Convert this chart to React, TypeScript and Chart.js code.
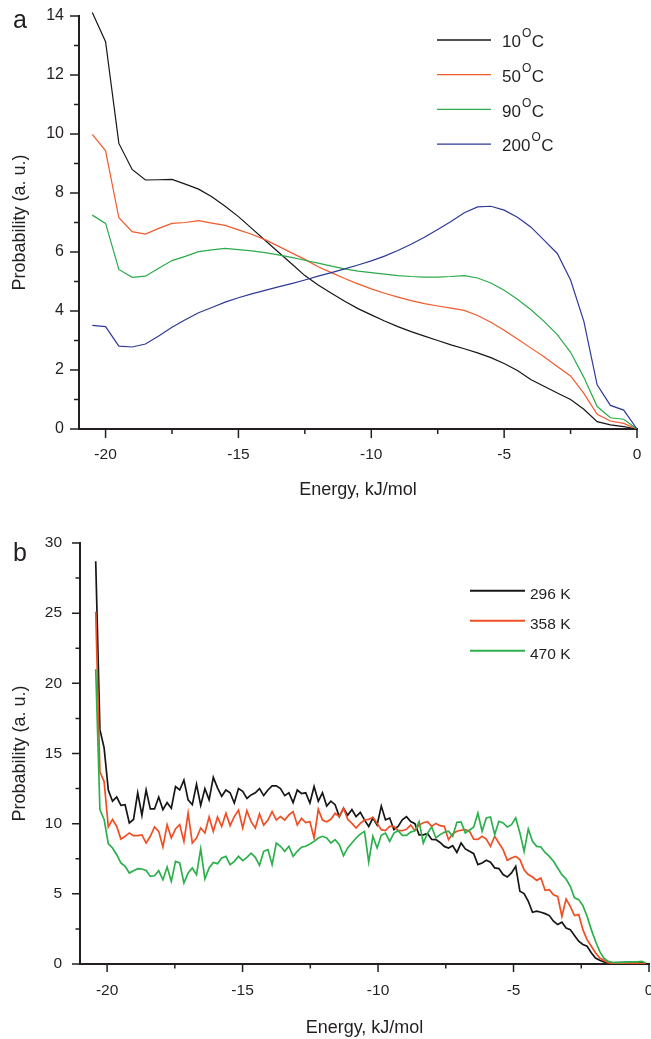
import React, { useEffect, useRef } from 'react';
import { Chart, registerables } from 'chart.js';

Chart.register(...registerables);

const FONT = '"Liberation Sans", Arial, Helvetica, sans-serif';
const INK = '#231f20';

// ---------------- Panel a ----------------
const energyA = [
  -20.5, -20, -19.5, -19, -18.5, -18, -17.5, -17, -16.5, -16, -15.5, -15, -14.5, -14,
  -13.5, -13, -12.5, -12, -11.5, -11, -10.5, -10, -9.5, -9, -8.5, -8, -7.5, -7,
  -6.5, -6, -5.5, -5, -4.5, -4, -3.5, -3, -2.5, -2, -1.5, -1, -0.5, 0,
];
const prob10C = [
  14.12, 13.13, 9.68, 8.8, 8.44, 8.45, 8.46, 8.3, 8.13, 7.87, 7.55, 7.2, 6.8, 6.4,
  6.0, 5.6, 5.2, 4.88, 4.6, 4.33, 4.08, 3.87, 3.66, 3.47, 3.3, 3.15, 3.0, 2.85,
  2.72, 2.58, 2.42, 2.22, 1.98, 1.68, 1.45, 1.22, 1.0, 0.67, 0.25, 0.14, 0.08, 0,
];
const prob50C = [
  9.99, 9.43, 7.16, 6.69, 6.61, 6.8, 6.97, 7.0, 7.06, 6.98, 6.9, 6.75, 6.6, 6.42,
  6.2, 5.97, 5.75, 5.5, 5.3, 5.1, 4.92, 4.75, 4.6, 4.47, 4.35, 4.25, 4.17, 4.1,
  4.02, 3.85, 3.62, 3.35, 3.05, 2.75, 2.45, 2.12, 1.8, 1.21, 0.5, 0.27, 0.19, 0,
];
const prob90C = [
  7.25, 6.97, 5.41, 5.14, 5.18, 5.45, 5.71, 5.85, 6.01, 6.07, 6.12, 6.08, 6.04, 5.98,
  5.9, 5.82, 5.72, 5.62, 5.52, 5.43, 5.35, 5.3, 5.25, 5.2, 5.17, 5.15, 5.15, 5.17,
  5.2, 5.12, 4.95, 4.7, 4.4, 4.05, 3.65, 3.2, 2.6, 1.75, 0.76, 0.38, 0.33, 0,
];
const prob200C = [
  3.51, 3.47, 2.81, 2.78, 2.88, 3.15, 3.45, 3.7, 3.94, 4.12, 4.3, 4.45, 4.58, 4.7,
  4.82, 4.93, 5.05, 5.18, 5.3, 5.43, 5.56, 5.7, 5.86, 6.05, 6.26, 6.5, 6.76, 7.03,
  7.33, 7.53, 7.55, 7.42, 7.18, 6.85, 6.4, 5.95, 5.05, 3.65, 1.5, 0.8, 0.64, 0,
];
const tempLabelsA = ['10', '50', '90', '200'];
const colorsA = ['#161616', '#f15a2b', '#2bab4a', '#2e3a97'];
const xMajorA = [-20, -15, -10, -5, 0];
const xMinorA = [-17.5, -12.5, -7.5, -2.5];
const yMajorA = [0, 2, 4, 6, 8, 10, 12, 14];
const yMinorA = [1, 3, 5, 7, 9, 11, 13];

// ---------------- Panel b ----------------
const energyBStart = -20.42;
const energyBStep = 0.155;
const prob296K = [
  28.7, 16.7, 15.4, 12.4, 11.6, 11.9, 11.3, 11.35, 10.05, 10.3,
  12.2, 10.6, 12.4, 11.05, 11.05, 11.9, 11.0, 11.5, 11.1, 12.65,
  12.4, 13.1, 11.7, 11.35, 12.8, 11.3, 12.5, 11.7, 13.3, 12.55,
  11.95, 12.4, 12.2, 11.47, 12.5, 12.3, 11.8, 12.05, 12.2, 12.5,
  12.0, 12.4, 12.7, 12.7, 12.5, 12.0, 12.2, 11.5, 12.4, 12.15,
  12.2, 11.47, 12.65, 11.6, 12.2, 11.25, 11.6, 11.35, 10.5, 11.1,
  10.6, 11.0, 10.5, 10.8, 10.27, 9.8, 10.4, 9.9, 11.25, 10.27,
  10.4, 9.57, 9.8, 10.27, 10.5, 10.15, 10.0, 9.2, 9.2, 9.3,
  8.87, 8.86, 8.66, 8.38, 8.26, 8.43, 7.95, 8.62, 8.2, 8.03,
  7.86, 7.08, 7.2, 7.39, 7.25, 6.85, 6.8, 6.37, 6.2, 6.49,
  6.96, 5.18, 5.02, 4.47, 3.69, 3.76, 3.69, 3.59, 3.45, 3.05,
  2.81, 2.98, 2.57, 2.45, 2.03, 1.62, 1.39, 1.27, 0.8, 0.42,
  0.27, 0.15, 0.1, 0.08, 0.1, 0.1, 0.12, 0.1, 0.1, 0.15,
  0.1, 0.05,
];
const prob358K = [
  25.1, 13.7, 13.0, 9.77, 10.3, 9.8, 8.9, 9.1, 9.34, 9.15,
  9.15, 9.2, 8.62, 9.1, 9.77, 9.45, 8.34, 9.93, 8.98, 9.62,
  9.93, 8.74, 10.76, 8.62, 8.98, 9.69, 9.34, 10.48, 9.45, 10.48,
  9.8, 10.74, 9.86, 10.5, 10.97, 9.69, 10.93, 10.14, 9.69, 10.69,
  9.9, 10.26, 10.86, 10.26, 10.5, 10.26, 10.62, 10.86, 9.9, 10.38,
  10.07, 10.14, 8.98, 11.02, 10.26, 10.14, 10.31, 10.74, 10.5, 11.1,
  10.31, 10.02, 9.69, 10.02, 10.26, 10.31, 10.45, 10.02, 9.57, 9.5,
  9.81, 9.81, 9.5, 9.5, 9.6, 9.9, 9.5, 9.9, 10.07, 10.14,
  9.81, 10.02, 9.86, 9.81, 8.86, 9.28, 9.46, 9.53, 9.57, 9.46,
  8.9, 8.88, 9.1, 8.9, 8.38, 9.1, 8.62, 8.15, 7.39, 7.55,
  7.67, 7.44, 6.72, 6.37, 6.2, 5.96, 6.13, 5.25, 5.3, 4.94,
  4.82, 3.4, 4.63, 4.11, 3.45, 3.52, 2.45, 1.74, 1.27, 0.8,
  0.42, 0.27, 0.1, 0.06, 0.05, 0.06, 0.05, 0.06, 0.08, 0.06,
  0.05, 0.03,
];
const prob470K = [
  21.0, 11.0, 10.3, 8.57, 8.27, 7.79, 7.2, 6.96, 6.48, 6.65,
  6.79, 6.77, 6.67, 6.24, 6.29, 6.65, 6.0, 6.91, 5.89, 7.31,
  7.2, 5.77, 6.48, 6.84, 6.36, 8.2, 6.06, 6.84, 7.24, 7.15,
  7.55, 7.67, 7.08, 7.31, 7.67, 7.36, 7.6, 7.9, 7.6, 7.03,
  8.03, 8.15, 7.08, 8.62, 8.39, 8.03, 8.39, 7.67, 8.03, 8.32,
  8.39, 8.55, 8.74, 8.98, 9.1, 8.98, 8.62, 8.86, 8.5, 7.72,
  8.27, 8.62, 8.98, 9.26, 9.45, 7.27, 9.1, 8.27, 9.17, 9.33,
  8.74, 9.33, 9.5, 9.17, 9.16, 9.4, 9.5, 10.14, 8.62, 9.33,
  9.76, 8.98, 9.22, 9.38, 9.46, 9.1, 10.1, 10.12, 9.34, 9.53,
  9.76, 10.76, 9.46, 10.41, 10.48, 9.22, 10.17, 10.05, 9.76, 9.93,
  10.41, 9.34, 8.03, 9.62, 8.74, 8.38, 8.34, 7.95, 7.67, 7.32,
  6.84, 6.37, 6.06, 5.54, 4.71, 4.59, 4.16, 3.4, 2.45, 1.62,
  0.9, 0.42, 0.19, 0.12, 0.1, 0.12, 0.12, 0.15, 0.15, 0.15,
  0.19, 0.07,
];
const legendLabelsB = ['296 K', '358 K', '470 K'];
const colorsB = ['#161616', '#f04e23', '#2cb04c'];
const xMajorB = [-20, -15, -10, -5, 0];
const xMinorB = [-17.5, -12.5, -7.5, -2.5];
const yMajorB = [0, 5, 10, 15, 20, 25, 30];
const yMinorB = [2.5, 7.5, 12.5, 17.5, 22.5, 27.5];

type DecorCfg = {
  name: string;
  xMajor: number[]; xMinor: number[]; yMajor: number[]; yMinor: number[];
  majorLen: number; minorLen: number; tickWidth: number;
  letter: string; letterX: number; letterY: number;
  legend: (ctx: CanvasRenderingContext2D) => void;
};

function makeDecor(cfg: DecorCfg) {
  return {
    id: 'decor_' + cfg.name,
    afterDraw(chart: any) {
      const { ctx, chartArea } = chart;
      const xs = chart.scales.x;
      const ys = chart.scales.y;
      ctx.save();
      ctx.strokeStyle = INK;
      ctx.lineWidth = cfg.tickWidth;
      ctx.beginPath();
      const b = chartArea.bottom;
      const l = chartArea.left;
      cfg.xMajor.forEach((v) => {
        const p = xs.getPixelForValue(v);
        ctx.moveTo(p, b); ctx.lineTo(p, b + cfg.majorLen);
      });
      cfg.xMinor.forEach((v) => {
        const p = xs.getPixelForValue(v);
        ctx.moveTo(p, b); ctx.lineTo(p, b + cfg.minorLen);
      });
      cfg.yMajor.forEach((v) => {
        const p = ys.getPixelForValue(v);
        ctx.moveTo(l, p); ctx.lineTo(l - cfg.majorLen, p);
      });
      cfg.yMinor.forEach((v) => {
        const p = ys.getPixelForValue(v);
        ctx.moveTo(l, p); ctx.lineTo(l - cfg.minorLen, p);
      });
      ctx.stroke();
      cfg.legend(ctx);
      ctx.fillStyle = INK;
      ctx.font = `25px ${FONT}`;
      ctx.textAlign = 'left';
      ctx.textBaseline = 'alphabetic';
      ctx.fillText(cfg.letter, cfg.letterX, cfg.letterY);
      ctx.restore();
    },
  };
}

function legendA(ctx: CanvasRenderingContext2D) {
  tempLabelsA.forEach((t, i) => {
    const ly = 40 + i * 34.7;
    ctx.strokeStyle = colorsA[i];
    ctx.lineWidth = 1.3;
    ctx.beginPath();
    ctx.moveTo(437, ly); ctx.lineTo(491, ly);
    ctx.stroke();
    ctx.fillStyle = INK;
    ctx.textAlign = 'left';
    ctx.textBaseline = 'alphabetic';
    ctx.font = `17px ${FONT}`;
    let x = 502;
    ctx.fillText(t, x, ly + 7.3);
    x += ctx.measureText(t).width + 1.2;
    ctx.font = `12px ${FONT}`;
    ctx.fillText('O', x, ly - 2.7);
    x += ctx.measureText('O').width + 0.3;
    ctx.font = `17px ${FONT}`;
    ctx.fillText('C', x, ly + 7.3);
  });
}

function legendB(ctx: CanvasRenderingContext2D) {
  legendLabelsB.forEach((t, i) => {
    const ly = 75.7 + i * 30;
    ctx.strokeStyle = colorsB[i];
    ctx.lineWidth = 2;
    ctx.beginPath();
    ctx.moveTo(470, ly); ctx.lineTo(525, ly);
    ctx.stroke();
    ctx.fillStyle = INK;
    ctx.textAlign = 'left';
    ctx.textBaseline = 'alphabetic';
    ctx.font = `15.5px ${FONT}`;
    ctx.fillText(t, 530, ly + 8.6);
  });
}

function axisCommon(opts: {
  min: number; max: number; ticks: number[]; labelPad: number; size?: number;
  title: string; titlePad: any; fit: (s: any) => void;
}) {
  return {
    type: 'linear' as const,
    min: opts.min,
    max: opts.max,
    afterBuildTicks: (s: any) => { s.ticks = opts.ticks.map((v) => ({ value: v })); },
    afterFit: opts.fit,
    grid: { display: false, drawTicks: false },
    border: { display: true, color: INK, width: 2 },
    ticks: {
      padding: opts.labelPad,
      color: INK,
      autoSkip: false,
      maxRotation: 0,
      font: { family: FONT, size: opts.size ?? 15.5 },
      callback: (v: any) => String(v),
    },
    title: {
      display: true,
      text: opts.title,
      color: INK,
      font: { family: FONT, size: 18 },
      padding: opts.titlePad,
    },
  };
}

function ChartA() {
  const ref = useRef<HTMLCanvasElement | null>(null);
  useEffect(() => {
    if (!ref.current) return;
    const series = [prob10C, prob50C, prob90C, prob200C];
    const chart = new Chart(ref.current, {
      type: 'line',
      data: {
        datasets: series.map((s, i) => ({
          label: tempLabelsA[i] + '°C',
          data: energyA.map((e, j) => ({ x: e, y: s[j] })),
          borderColor: colorsA[i],
          borderWidth: 1.2,
          pointRadius: 0,
          tension: 0,
          fill: false,
          clip: false as any,
          order: 3 - i,
        })),
      },
      options: {
        responsive: false,
        animation: false,
        layout: { padding: { left: 0, top: 16, right: 14, bottom: 0 } },
        plugins: { legend: { display: false }, tooltip: { enabled: false } },
        scales: {
          x: axisCommon({
            min: -21, max: 0, ticks: xMajorA, labelPad: 16,
            title: 'Energy, kJ/mol', titlePad: { top: 0, bottom: 14 },
            fit: (s: any) => { s.height = 86; s.paddingLeft = 0; s.paddingRight = 0; },
          }) as any,
          y: axisCommon({
            min: 0, max: 14, ticks: yMajorA, labelPad: 15, size: 16,
            title: 'Probability (a. u.)', titlePad: { top: 9, bottom: 0 },
            fit: (s: any) => { s.width = 79; s.paddingTop = 0; s.paddingBottom = 0; },
          }) as any,
        },
      },
      plugins: [makeDecor({
        name: 'a', xMajor: xMajorA, xMinor: xMinorA, yMajor: yMajorA, yMinor: yMinorA,
        majorLen: 9, minorLen: 5, tickWidth: 1.5,
        letter: 'a', letterX: 13, letterY: 28.3, legend: legendA,
      })],
    });
    return () => chart.destroy();
  }, []);
  return <canvas ref={ref} width={651} height={515} style={{ display: 'block', width: 651, height: 515 }} />;
}

function ChartB() {
  const ref = useRef<HTMLCanvasElement | null>(null);
  useEffect(() => {
    if (!ref.current) return;
    const series = [prob296K, prob358K, prob470K];
    const chart = new Chart(ref.current, {
      type: 'line',
      data: {
        datasets: series.map((s, i) => ({
          label: legendLabelsB[i],
          data: s.map((v, j) => ({ x: +(energyBStart + j * energyBStep).toFixed(3), y: v })),
          borderColor: colorsB[i],
          borderWidth: 1.7,
          pointRadius: 0,
          tension: 0,
          fill: false,
          order: 2 - i,
        })),
      },
      options: {
        responsive: false,
        animation: false,
        layout: { padding: { left: 0, top: 28, right: 2, bottom: 0 } },
        plugins: { legend: { display: false }, tooltip: { enabled: false } },
        scales: {
          x: axisCommon({
            min: -21, max: 0, ticks: xMajorB, labelPad: 17,
            title: 'Energy, kJ/mol', titlePad: { top: 0, bottom: 0 },
            fit: (s: any) => { s.height = 75; s.paddingLeft = 0; s.paddingRight = 0; },
          }) as any,
          y: axisCommon({
            min: 0, max: 30, ticks: yMajorB, labelPad: 18,
            title: 'Probability (a. u.)', titlePad: { top: 9, bottom: 0 },
            fit: (s: any) => { s.width = 80; s.paddingTop = 0; s.paddingBottom = 0; },
          }) as any,
        },
      },
      plugins: [makeDecor({
        name: 'b', xMajor: xMajorB, xMinor: xMinorB, yMajor: yMajorB, yMinor: yMinorB,
        majorLen: 8, minorLen: 4.5, tickWidth: 1.5,
        letter: 'b', letterX: 13, letterY: 45.7, legend: legendB,
      })],
    });
    return () => chart.destroy();
  }, []);
  return <canvas ref={ref} width={651} height={524} style={{ display: 'block', width: 651, height: 524 }} />;
}

export default function App() {
  return (
    <div style={{ position: 'absolute', left: 0, top: 0, width: 651, height: 1039, background: '#fff', overflow: 'hidden' }}>
      <ChartA />
      <ChartB />
    </div>
  );
}
